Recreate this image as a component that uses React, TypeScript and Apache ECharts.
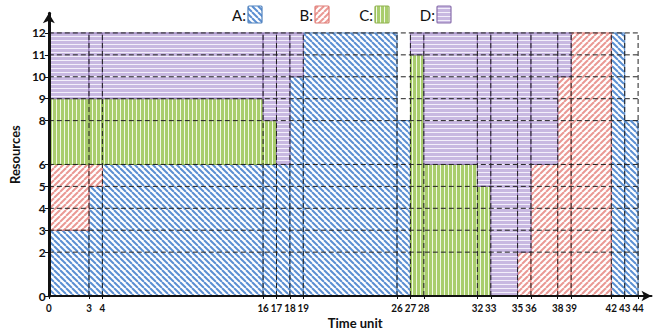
import React, { useEffect, useRef } from 'react';
import * as echarts from 'echarts';

// Axis tick values
const xTicks = [0, 3, 4, 16, 17, 18, 19, 26, 27, 28, 32, 33, 35, 36, 38, 39, 42, 43, 44];
const yTicks = [0, 2, 3, 4, 5, 6, 8, 9, 10, 11, 12];

// Blocks: [startTime, endTime, fromResource, toResource]
const taskA = [[0, 3, 0, 3], [3, 4, 0, 5], [4, 16, 0, 6], [16, 17, 0, 6], [17, 18, 0, 6], [18, 19, 0, 10], [19, 26, 0, 12], [26, 27, 0, 8], [42, 43, 0, 12], [43, 44, 0, 8]];
const taskB = [[0, 3, 3, 6], [3, 4, 5, 6], [35, 36, 0, 2], [36, 38, 0, 6], [38, 39, 0, 10], [39, 42, 0, 12]];
const taskC = [[0, 3, 6, 9], [3, 4, 6, 9], [4, 16, 6, 9], [16, 17, 6, 8], [27, 28, 0, 11], [28, 32, 0, 6], [32, 33, 0, 5]];
const taskD = [[0, 3, 9, 12], [3, 4, 9, 12], [4, 16, 9, 12], [16, 17, 8, 12], [17, 18, 6, 12], [18, 19, 10, 12], [27, 28, 11, 12], [28, 32, 6, 12], [32, 33, 5, 12], [33, 35, 0, 12], [35, 36, 2, 12], [36, 38, 6, 12], [38, 39, 10, 12]];
const taskNames = ['A', 'B', 'C', 'D'];
const tasks = [taskA, taskB, taskC, taskD];

const FONT = 'Lato, "Open Sans", sans-serif';

function makePattern(kind: string) {
  const s = kind === 'A' || kind === 'B' ? 6 : 4;
  const c = document.createElement('canvas');
  c.width = s;
  c.height = s;
  const g = c.getContext('2d')!;
  if (kind === 'A' || kind === 'B') {
    g.fillStyle = '#ffffff';
    g.fillRect(0, 0, s, s);
    g.strokeStyle = kind === 'A' ? '#5b8fd2' : '#ea9994';
    g.lineWidth = 2;
    for (const k of [-s, 0, s]) {
      g.beginPath();
      if (kind === 'A') {
        g.moveTo(k, 0);
        g.lineTo(k + s, s);
      } else {
        g.moveTo(k, s);
        g.lineTo(k + s, 0);
      }
      g.stroke();
    }
  } else if (kind === 'C') {
    g.fillStyle = '#a9cd6d';
    g.fillRect(0, 0, s, s);
    g.fillStyle = '#f2f8e6';
    g.fillRect(0, 0, 1, s);
  } else {
    g.fillStyle = '#c8b8e1';
    g.fillRect(0, 0, s, s);
    g.fillStyle = '#f3effa';
    g.fillRect(0, 0, s, 1);
  }
  return { image: c.toDataURL(), repeat: 'repeat', imageWidth: s, imageHeight: s } as any;
}

const borderColors: Record<string, string> = { A: '#4f81bd', B: '#e07a74', C: '#8fb24f', D: '#8a70ad' };

export default function App() {
  const ref = useRef<HTMLDivElement>(null);
  useEffect(() => {
    document.body.style.margin = '0';
    const chart = echarts.init(ref.current!, null, { renderer: 'svg' });
    const patterns: Record<string, any> = {};
    taskNames.forEach((n) => (patterns[n] = makePattern(n)));

    const blockSeries = taskNames.map((n, i) => ({
      type: 'custom',
      name: n,
      z: 2,
      data: tasks[i],
      encode: { x: [0, 1], y: [2, 3] },
      renderItem: (params: any, api: any) => {
        const p0 = api.coord([api.value(0), api.value(3)]);
        const p1 = api.coord([api.value(1), api.value(2)]);
        return {
          type: 'rect',
          shape: { x: p0[0], y: p0[1], width: p1[0] - p0[0], height: p1[1] - p0[1] },
          style: { fill: patterns[n], stroke: borderColors[n], lineWidth: 1 },
        };
      },
    }));

    const gridLines = [
      ...xTicks.filter((v) => v > 0).map((v) => [v, v, 0, 12]),
      ...yTicks.filter((v) => v > 0).map((v) => [0, 44, v, v]),
    ];

    const gridSeries = {
      type: 'custom',
      name: 'grid',
      z: 5,
      silent: true,
      data: gridLines,
      encode: { x: [0, 1], y: [2, 3] },
      renderItem: (params: any, api: any) => {
        const a = api.coord([api.value(0), api.value(2)]);
        const b = api.coord([api.value(1), api.value(3)]);
        return {
          type: 'line',
          shape: { x1: a[0], y1: a[1], x2: b[0], y2: b[1] },
          style: { stroke: '#222', lineWidth: 1, lineDash: [5, 3] },
        };
      },
    };

    // x tick labels, horizontally condensed so neighbouring labels stay apart
    const xLabelSeries = {
      type: 'custom',
      name: 'xlabels',
      z: 7,
      silent: true,
      clip: false,
      data: xTicks.map((v) => [v, 0]),
      encode: { x: 0, y: 1 },
      renderItem: (params: any, api: any) => {
        const p = api.coord([api.value(0), 0]);
        return {
          type: 'text',
          x: p[0],
          y: p[1] + 5,
          scaleX: 0.82,
          style: {
            text: String(api.value(0)),
            font: `bold 12px ${FONT}`,
            fill: '#111',
            align: 'center',
            verticalAlign: 'top',
          },
        };
      },
    };

    const legendX = [248, 315, 375, 437];
    const legendEls: any[] = [];
    taskNames.forEach((n, i) => {
      legendEls.push({
        type: 'text',
        x: legendX[i] - 2,
        y: 15,
        style: { text: n + ':', font: `15px ${FONT}`, fill: '#111', align: 'right', verticalAlign: 'middle' },
      });
      legendEls.push({
        type: 'rect',
        shape: { x: legendX[i], y: 6, width: 14, height: 17, r: 1 },
        style: { fill: patterns[n], stroke: borderColors[n], lineWidth: 1.2 },
      });
    });

    chart.setOption({
      animation: false,
      grid: { left: 43, right: 12.5, top: 13.2, bottom: 37, containLabel: false },
      xAxis: {
        type: 'value',
        min: 0,
        max: 45,
        z: 6,
        name: 'Time unit',
        nameLocation: 'middle',
        nameGap: 20,
        nameTextStyle: { fontFamily: FONT, fontWeight: 'bold', fontSize: 13, color: '#111', padding: [0, 0, 0, 10] },
        axisLine: { lineStyle: { color: '#111', width: 2 }, symbol: ['none', 'arrow'], symbolSize: [8, 10] },
        axisTick: { show: true, length: 3, customValues: xTicks, lineStyle: { color: '#111' } },
        axisLabel: { show: false },
        splitLine: { show: false },
      },
      yAxis: {
        type: 'value',
        min: 0,
        max: 12.9,
        z: 6,
        name: 'Resources',
        nameLocation: 'middle',
        nameGap: 26,
        nameTextStyle: { fontFamily: FONT, fontWeight: 'bold', fontSize: 13, color: '#111' },
        axisLine: { lineStyle: { color: '#111', width: 3 }, symbol: ['none', 'arrow'], symbolSize: [9, 10] },
        axisTick: { show: true, length: 4, customValues: yTicks, lineStyle: { color: '#111' } },
        axisLabel: {
          customValues: yTicks,
          showMinLabel: true,
          showMaxLabel: true,
          fontFamily: FONT,
          fontWeight: 'bold',
          fontSize: 12,
          color: '#111',
          margin: 3,
        },
        splitLine: { show: false },
      },
      graphic: { elements: legendEls },
      series: [...blockSeries, gridSeries, xLabelSeries],
    } as any);
    return () => chart.dispose();
  }, []);
  return <div ref={ref} style={{ width: 664, height: 334 }} />;
}
